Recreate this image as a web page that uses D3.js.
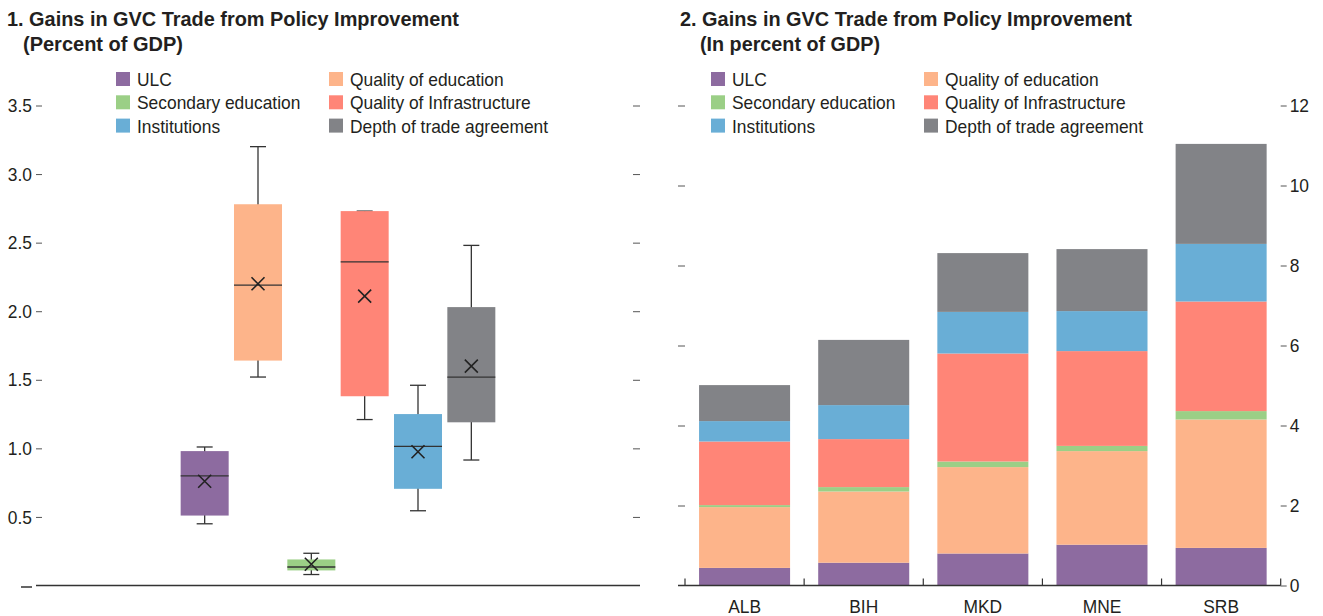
<!DOCTYPE html>
<html>
<head>
<meta charset="utf-8">
<script src="https://cdn.jsdelivr.net/npm/d3@7"></script>
<style>
body { margin: 0; background: #fff; }
text { font-family: "Liberation Sans", Arial, sans-serif; fill: #231f20; }
.lbl { font-size: 19px; }
.ttl { font-size: 21px; font-weight: bold; }
</style>
</head>
<body>
<svg id="chart" width="1323" height="616"></svg>
<script>
/* global d3 */
// series, in Excel order (legend runs row by row, stacks bottom -> top)
const series = ["ULC", "Quality of education", "Secondary education",
                "Quality of Infrastructure", "Institutions", "Depth of trade agreement"];
const colors = ["#8d6ba0", "#fdb48a", "#9bcf86", "#ff8577", "#69aed6", "#828387"];

// panel 1: box plots (percent of GDP)
const boxMin    = [0.45, 1.52, 0.08,  1.21, 0.545, 0.915];
const boxQ1     = [0.51, 1.64, 0.11,  1.38, 0.705, 1.19];
const boxMedian = [0.80, 2.19, 0.135, 2.36, 1.015, 1.52];
const boxQ3     = [0.98, 2.78, 0.19,  2.73, 1.25,  2.03];
const boxMax    = [1.01, 3.20, 0.235, 2.73, 1.46,  2.48];
const boxMean   = [0.76, 2.20, 0.155, 2.11, 0.975, 1.60];
const leftTicks = [0.5, 1.0, 1.5, 2.0, 2.5, 3.0, 3.5];

// panel 2: stacked bars by country (in percent of GDP)
const countries = ["ALB", "BIH", "MKD", "MNE", "SRB"];
const ulc   = [0.44, 0.57, 0.80, 1.02, 0.94];
const qoe   = [1.52, 1.78, 2.16, 2.34, 3.21];
const sec   = [0.05, 0.11, 0.14, 0.13, 0.21];
const infra = [1.59, 1.20, 2.70, 2.37, 2.74];
const inst  = [0.51, 0.85, 1.04, 1.00, 1.44];
const depth = [0.90, 1.63, 1.47, 1.55, 2.50];
const rightTicks = [0, 2, 4, 6, 8, 10, 12];

const svg = d3.select("#chart");
const ink = "#333";

function legend(g, x0, x1) {
  series.forEach((s, i) => {
    const col = i % 2, row = Math.floor(i / 2);
    const x = col ? x1 : x0, y = 79 + row * 23.3;
    g.append("rect").attr("x", x).attr("y", y - 7).attr("width", 14).attr("height", 14)
      .attr("fill", colors[i]);
    g.append("text").attr("class", "lbl").attr("x", x + 21).attr("y", y + 7).text(s);
  });
}

function title(x, x2, line1, line2, w2) {
  svg.append("text").attr("class", "ttl").attr("x", x).attr("y", 26)
    .attr("textLength", 452).attr("lengthAdjust", "spacingAndGlyphs").text(line1);
  svg.append("text").attr("class", "ttl").attr("x", x2).attr("y", 50.5)
    .attr("textLength", w2).attr("lengthAdjust", "spacingAndGlyphs").text(line2);
}

// ---------- panel 1 ----------
title(7, 23, "1. Gains in GVC Trade from Policy Improvement", "(Percent of GDP)", 160);
const g1 = svg.append("g");
legend(g1, 116, 329);

const y1 = d3.scaleLinear().domain([0, 3.5]).range([585.5, 105.5]);
const x1 = d3.scaleBand().domain(series).range([178, 498]).paddingInner(0.1).paddingOuter(0.05);

g1.append("g").attr("transform", "translate(42,0)")
  .call(d3.axisLeft(y1).tickValues(leftTicks).tickSize(6).tickPadding(4).tickFormat(d3.format(".1f")))
  .call(a => a.select(".domain").remove())
  .call(a => a.selectAll("line").attr("stroke", "#555"))
  .call(a => a.selectAll("text").attr("class", "lbl").attr("fill", "#231f20"));
g1.append("g").attr("transform", "translate(633,0)")
  .call(d3.axisRight(y1).tickValues(leftTicks).tickSize(7).tickFormat(""))
  .call(a => a.select(".domain").remove())
  .call(a => a.selectAll("line").attr("stroke", "#555"));
g1.append("line").attr("x1", 21).attr("x2", 32).attr("y1", y1(0) + 1.5).attr("y2", y1(0) + 1.5)
  .attr("stroke", "#666").attr("stroke-width", 2);
g1.append("line").attr("x1", 36).attr("x2", 640).attr("y1", y1(0)).attr("y2", y1(0))
  .attr("stroke", ink).attr("stroke-width", 1.5);

const boxes = g1.selectAll("g.box").data(series).join("g").attr("class", "box");
boxes.each(function(s, i) {
  const g = d3.select(this);
  const bx = x1(s), bw = x1.bandwidth(), cx = bx + bw / 2;
  g.append("line").attr("x1", cx).attr("x2", cx).attr("y1", y1(boxMax[i])).attr("y2", y1(boxMin[i]))
    .attr("stroke", ink).attr("stroke-width", 1.3);
  [boxMax[i], boxMin[i]].forEach(v => g.append("line")
    .attr("x1", cx - 8).attr("x2", cx + 8).attr("y1", y1(v)).attr("y2", y1(v))
    .attr("stroke", ink).attr("stroke-width", 1.3));
  g.append("rect").attr("x", bx).attr("width", bw)
    .attr("y", y1(boxQ3[i])).attr("height", y1(boxQ1[i]) - y1(boxQ3[i]))
    .attr("fill", colors[i]);
  g.append("line").attr("x1", bx).attr("x2", bx + bw)
    .attr("y1", y1(boxMedian[i])).attr("y2", y1(boxMedian[i]))
    .attr("stroke", ink).attr("stroke-width", 1.3);
  const my = y1(boxMean[i]), r = 6.5;
  g.append("path").attr("d", `M${cx - r},${my - r}L${cx + r},${my + r}M${cx - r},${my + r}L${cx + r},${my - r}`)
    .attr("stroke", "#222").attr("stroke-width", 1.6).attr("fill", "none");
});

// ---------- panel 2 ----------
title(680, 700, "2. Gains in GVC Trade from Policy Improvement", "(In percent of GDP)", 180);
const g2 = svg.append("g");
legend(g2, 711, 924);

const y2 = d3.scaleLinear().domain([0, 12]).range([585.5, 105.5]);
const x2 = d3.scaleBand().domain(countries).range([685, 1280.7]).paddingInner(0.236).paddingOuter(0.118);

const rows = countries.map((c, i) => ({
  country: c,
  "ULC": ulc[i], "Quality of education": qoe[i], "Secondary education": sec[i],
  "Quality of Infrastructure": infra[i], "Institutions": inst[i], "Depth of trade agreement": depth[i]
}));
const stacked = d3.stack().keys(series)(rows);

g2.selectAll("g.layer").data(stacked).join("g").attr("class", "layer")
  .attr("fill", (d, i) => colors[i])
  .selectAll("rect").data(d => d).join("rect")
  .attr("x", d => x2(d.data.country)).attr("width", x2.bandwidth())
  .attr("y", d => y2(d[1])).attr("height", d => y2(d[0]) - y2(d[1]));

g2.append("g").attr("transform", "translate(685,0)")
  .call(d3.axisLeft(y2).tickValues(rightTicks.slice(1)).tickSize(7).tickFormat(""))
  .call(a => a.select(".domain").remove())
  .call(a => a.selectAll("line").attr("stroke", "#555"));
g2.append("g").attr("transform", "translate(1280.7,0)")
  .call(d3.axisRight(y2).tickValues(rightTicks).tickSize(6).tickPadding(3))
  .call(a => a.select(".domain").remove())
  .call(a => a.selectAll("line").attr("stroke", "#555"))
  .call(a => a.selectAll("text").attr("class", "lbl").attr("fill", "#231f20"));

// category boundary ticks and baseline
const bounds = countries.map(c => x2(c) - x2.step() * x2.paddingInner() / 2).concat([1280.7]);
g2.selectAll("line.ctick").data(bounds).join("line").attr("class", "ctick")
  .attr("x1", d => d).attr("x2", d => d).attr("y1", y2(0) - 7).attr("y2", y2(0))
  .attr("stroke", ink).attr("stroke-width", 1.2);
g2.append("line").attr("x1", 678).attr("x2", 1280.7).attr("y1", y2(0)).attr("y2", y2(0))
  .attr("stroke", ink).attr("stroke-width", 1.5);

g2.selectAll("text.cat").data(countries).join("text").attr("class", "cat lbl")
  .attr("x", d => x2(d) + x2.bandwidth() / 2).attr("y", 612.5)
  .attr("text-anchor", "middle").text(d => d);

// condensed look: squeeze regular labels horizontally
svg.selectAll("text.lbl").each(function() {
  const w = this.getComputedTextLength();
  d3.select(this).attr("textLength", w * 0.915).attr("lengthAdjust", "spacingAndGlyphs");
});
</script>
</body>
</html>
